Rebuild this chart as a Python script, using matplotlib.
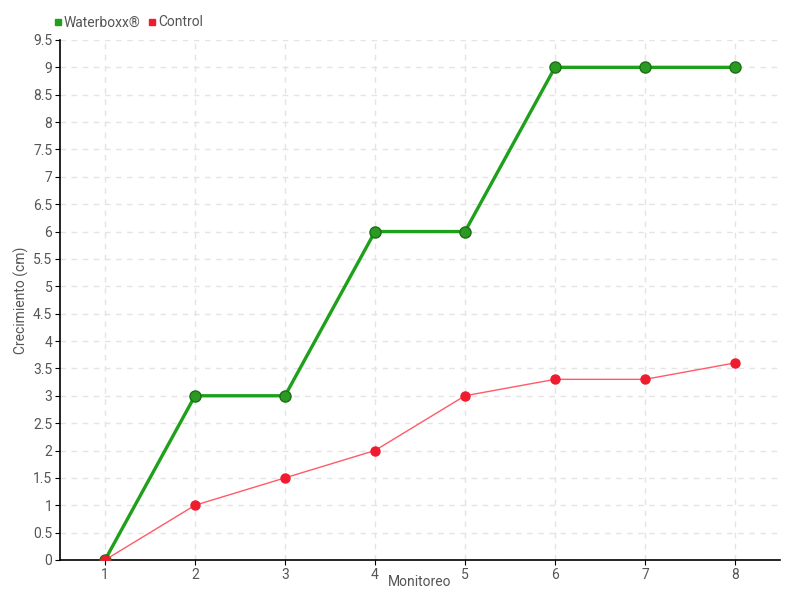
import matplotlib
matplotlib.use("Agg")
import matplotlib.pyplot as plt
from matplotlib.lines import Line2D

monitoreo = [1, 2, 3, 4, 5, 6, 7, 8]
waterboxx = [0, 3, 3, 6, 6, 9, 9, 9]
control = [0, 1, 1.5, 2, 3, 3.3, 3.3, 3.6]
y_ticks = [0, 0.5, 1, 1.5, 2, 2.5, 3, 3.5, 4, 4.5, 5, 5.5, 6, 6.5, 7, 7.5, 8, 8.5, 9, 9.5]

green = "#1fa01a"
red = "#ee1c2e"
text_col = "#555555"

plt.rcParams['font.family'] = ['Roboto', 'DejaVu Sans']

fig = plt.figure(figsize=(8, 6), dpi=100)
ax = fig.add_axes([0.075, 0.0667, 0.9, 0.8667])

ax.plot(monitoreo, waterboxx, color=green, lw=2.4, marker="o", ms=8,
        mfc="#2a9a22", mec="#1c6e18", mew=1, zorder=3)
ax.plot(monitoreo, control, color="#ff5a68", lw=1, marker="o", ms=6.5,
        mfc=red, mec=red, zorder=4)

ax.set_xlim(0.5, 8.5)
ax.set_ylim(0, 9.5)
ax.set_xticks(monitoreo)
ax.set_xticklabels([str(m) for m in monitoreo])
ax.set_yticks(y_ticks)
ax.set_yticklabels([("%g" % v) for v in y_ticks])
ax.grid(True, color="#e4e4e4", linestyle=(0, (4, 4)), lw=1)
ax.set_axisbelow(True)

for side in ["top", "right"]:
    ax.spines[side].set_visible(False)
ax.spines["left"].set_linewidth(1.2)
ax.spines["bottom"].set_linewidth(1.2)
ax.tick_params(axis="both", colors="black", labelcolor=text_col, labelsize=10,
               length=3.5, direction="out", pad=2)

ax.set_xlabel("Monitoreo", color=text_col, fontsize=10)
ax.set_ylabel("Crecimiento (cm)", color=text_col, fontsize=10)
ax.xaxis.set_label_coords(0.5, -0.028)
ax.yaxis.set_label_coords(-0.043, 0.5)

handles = [
    Line2D([], [], color=green, marker="s", ls="none", ms=5),
    Line2D([], [], color=red, marker="s", ls="none", ms=5),
]
fig.legend(handles, ["Waterboxx®", "Control"], loc="upper left",
           bbox_to_anchor=(0.052, 0.995), ncol=2, frameon=False,
           fontsize=10, handlelength=0.5, handletextpad=0.2, columnspacing=0.6,
           labelcolor=text_col)

fig.savefig("out.png", dpi=100)
